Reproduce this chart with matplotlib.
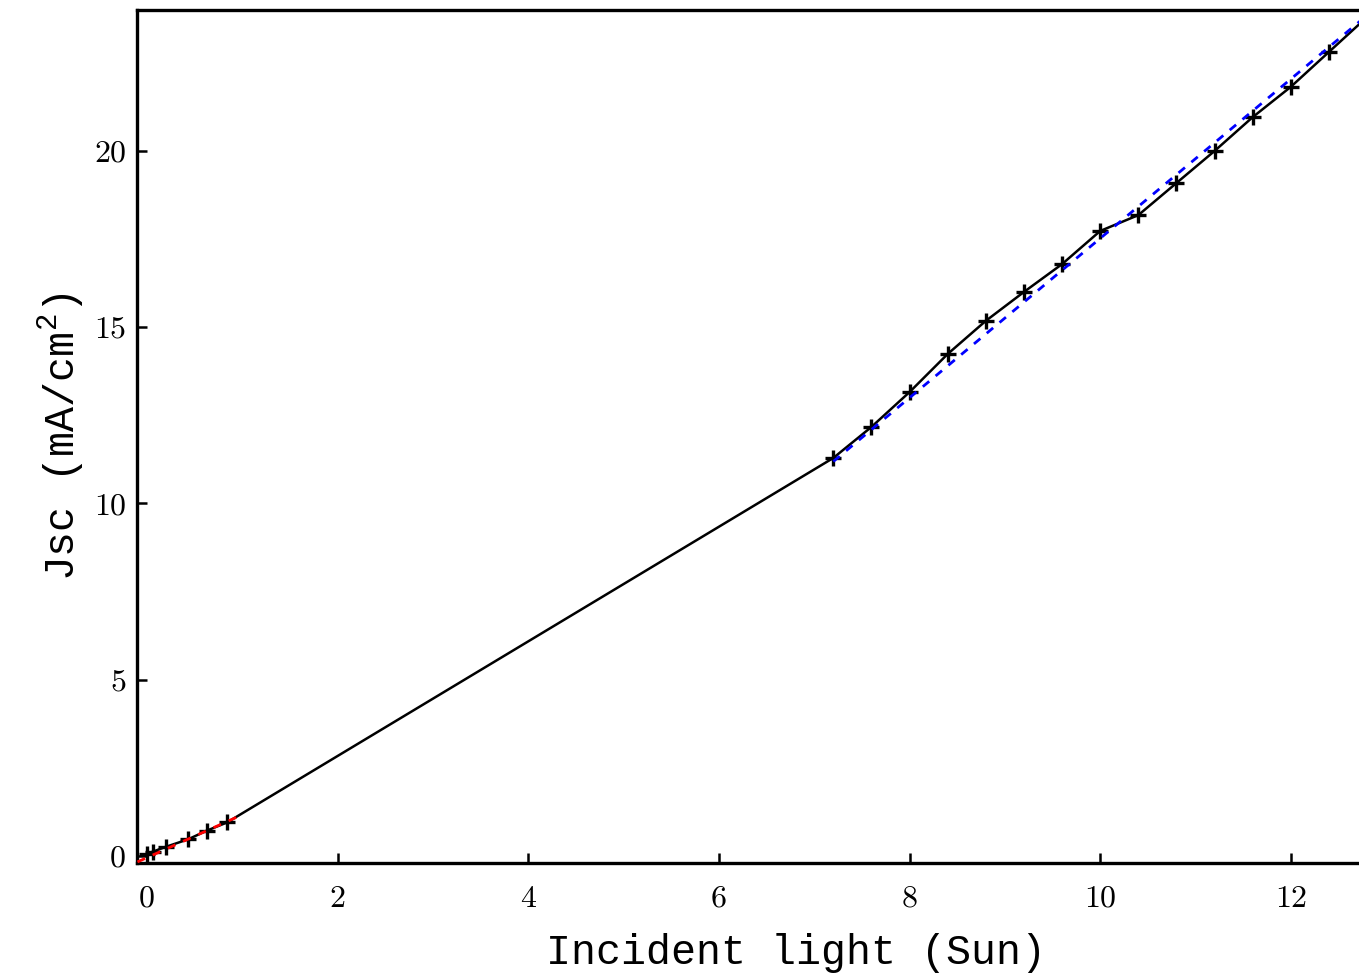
import numpy as np
import matplotlib
matplotlib.use('Agg')
import matplotlib.pyplot as plt

# measured Jsc vs incident light
light = [0.0, 0.06, 0.2, 0.43, 0.63, 0.84,
         7.2, 7.6, 8.0, 8.4, 8.8, 9.2, 9.6, 10.0, 10.4, 10.8, 11.2, 11.6, 12.0, 12.4, 12.8]
jsc = [0.06, 0.12, 0.26, 0.47, 0.72, 0.95,
       11.29, 12.17, 13.16, 14.24, 15.18, 16.0, 16.79, 17.73, 18.18, 19.09, 20.0, 20.96, 21.82, 22.81, 23.8]

# linear fits (end points)
fit_low_x = [-0.1, 1.0]
fit_low_y = [-0.17, 1.17]
fit_high_x = [7.2, 12.8]
fit_high_y = [11.19, 23.85]

xticks = [0, 2, 4, 6, 8, 10, 12]
yticks = [0, 5, 10, 15, 20]

plt.rcParams['mathtext.fontset'] = 'custom'
plt.rcParams['mathtext.rm'] = 'Liberation Mono'
plt.rcParams['mathtext.it'] = 'Liberation Mono'

fig = plt.figure(figsize=(13.59, 9.76), dpi=100)
ax = fig.add_axes([0.1008, 0.1158, 0.8992, 0.874])

ax.plot(light, jsc, color='black', lw=1.8, marker='+', ms=11, mew=2.4, zorder=2)
ax.plot(fit_low_x, fit_low_y, color='red', lw=2, dashes=(3, 3), zorder=3)
ax.plot(fit_high_x, fit_high_y, color='blue', lw=2, dashes=(3, 3), zorder=3)

ax.set_xlim(-0.105, 12.715)
ax.set_ylim(-0.2, 24.0)
ax.set_xticks(xticks)
ax.set_yticks(yticks)

for s in ['left', 'bottom', 'top']:
    ax.spines[s].set_linewidth(2.4)
ax.spines['right'].set_visible(False)

ax.tick_params(direction='in', length=7, width=1.8, labelsize=23)
ax.tick_params(axis='x', pad=16)
ax.tick_params(axis='y', pad=8)
for lab in ax.get_xticklabels() + ax.get_yticklabels():
    lab.set_family('cmr10')

ax.set_xlabel('Incident light (Sun)', family='Liberation Mono', fontsize=30)
ax.set_ylabel('Jsc (mA/cm$^{2}$)', family='Liberation Mono', fontsize=30, labelpad=6)
ax.xaxis.set_label_coords(0.539, -0.082)

fig.savefig('out.png', dpi=100)
